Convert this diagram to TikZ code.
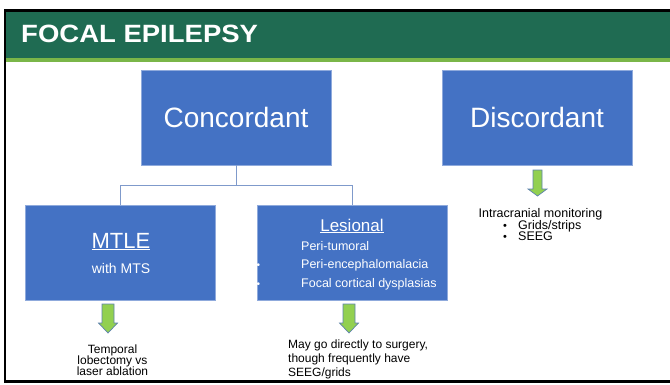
\documentclass[tikz,border=0pt]{standalone}
\usepackage{fontspec}
\setmainfont{Liberation Sans}
\usetikzlibrary{positioning}

\definecolor{hdrgreen}{HTML}{1F6B52}
\definecolor{hdrline}{HTML}{7AB648}
\definecolor{boxblue}{HTML}{4472C4}
\definecolor{boxedge}{HTML}{8FAADC}
\definecolor{linkblue}{HTML}{7F9ACB}
\definecolor{arrowgreen}{HTML}{92D050}
\definecolor{arrowedge}{HTML}{5E82AE}

\newcommand{\sz}[1]{\fontsize{#1}{#1}\selectfont}
% block arrow: x, top, tip, half shaft, half head, head length
\newcommand{\blockarrow}[6]{\filldraw[fill=arrowgreen,draw=arrowedge,line width=0.7pt,line join=miter]
	(#1-#4,#2) -- (#1+#4,#2) -- (#1+#4,#3-#6) -- (#1+#5,#3-#6) -- (#1,#3) -- (#1-#5,#3-#6) -- (#1-#4,#3-#6) -- cycle;}

\begin{document}
\begin{tikzpicture}[x=1pt,y=-1pt,
	bluebox/.style={draw=boxedge,fill=boxblue,line width=0.8pt,minimum width=190pt,minimum height=95pt,inner sep=0pt,text=white},
	boxtext/.style={anchor=base,inner sep=0pt,text=white},
	plaintext/.style={anchor=base,inner sep=0pt,text=black,font=\sz{12}},
	link/.style={draw=linkblue,line width=0.9pt}]
	\useasboundingbox (0,0) rectangle (670,384);
	
	%header
	\fill[hdrgreen] (6,12) rectangle (670,58);
	\fill[hdrline] (6,58) rectangle (670,62);
	\draw[line width=2.5pt] (670,10.5) -- (5,10.5) -- (5,381.5) -- (670,381.5);
	\node[anchor=base west,inner sep=0pt,text=white,font=\bfseries\sz{25}] (title) at (21,42.3) {\scalebox{1.1}[1]{FOCAL EPILEPSY}};
	
	%top row
	\node[bluebox,font=\sz{28}] (conc) at (236,117.5) {Concordant};
	\node[bluebox,font=\sz{28}] (disc) at (537,117.5) {Discordant};
	
	%second row
	\node[bluebox] (mtle) at (120.5,252.5) {};
	\node[boxtext,font=\sz{22}] (mtlehead) at (121,248) {\underline{MTLE}};
	\node[boxtext,font=\sz{14}] (mtlesub) at (121,273) {with MTS};
	
	\node[bluebox] (les) at (352,252.5) {};
	\node[boxtext,font=\sz{17}] (leshead) at (352,231) {\underline{Lesional}};
	\node[boxtext,anchor=base west,font=\sz{12.5}] (les1) at (301,250.5) {Peri-tumoral};
	\node[boxtext,anchor=base west,font=\sz{12.5}] (les2) at (301,268.5) {Peri-encephalomalacia};
	\node[boxtext,anchor=base west,font=\sz{12.5}] (les3) at (301,287) {Focal cortical dysplasias};
	\node[boxtext,anchor=base west,font=\sz{10}] (bul2) at (256.5,268.5) {•};
	\node[boxtext,anchor=base west,font=\sz{10}] (bul3) at (256.5,287) {•};
	
	\draw[link] (conc.south) -- ++(0,20) -| (mtle.north);
	\draw[link] (conc.south) -- ++(0,20) -| (les.north);
	
	%green arrows
	\blockarrow{108}{304}{333}{6}{9.5}{10}
	\blockarrow{349}{304}{333}{6}{9.5}{10}
	\blockarrow{537.5}{170}{196}{4.5}{9.5}{7}
	
	%outcomes
	\node[plaintext] (mtleout1) at (112.5,353) {Temporal};
	\node[plaintext] (mtleout2) at (112.5,364) {lobectomy vs};
	\node[plaintext] (mtleout3) at (112.5,375) {laser ablation};
	
	\node[plaintext,anchor=base west] (lesout1) at (288,348) {May go directly to surgery,};
	\node[plaintext,anchor=base west] (lesout2) at (288,362) {though frequently have};
	\node[plaintext,anchor=base west] (lesout3) at (288,376) {SEEG/grids};
	
	\node[plaintext,font=\sz{12.5}] (discout) at (540.5,217) {Intracranial monitoring};
	\node[plaintext,anchor=base west,font=\sz{11}] (discbul1) at (503,229) {•};
	\node[plaintext,anchor=base west,font=\sz{11}] (discbul2) at (503,240.5) {•};
	\node[plaintext,anchor=base west,font=\sz{12.5}] (discout1) at (518,229) {Grids/strips};
	\node[plaintext,anchor=base west,font=\sz{12.5}] (discout2) at (518,240.5) {SEEG};
\end{tikzpicture}
\end{document}
